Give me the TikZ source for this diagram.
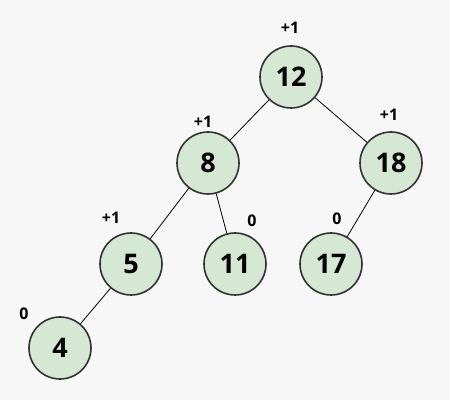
\documentclass[tikz,border=0pt]{standalone}
\usepackage{fontspec}
\setmainfont{Open Sans}
\usetikzlibrary{positioning}
\definecolor{bgcol}{HTML}{F7F7F7}
\definecolor{nodefill}{HTML}{D5E8D4}
\definecolor{nodeline}{HTML}{333333}

\begin{document}
\begin{tikzpicture}[x=0.5pt, y=-0.5pt,
		key/.style={circle, draw=nodeline, fill=nodefill, thick, minimum size=31pt, inner sep=0pt, font=\fontsize{13.5}{15}\selectfont\bfseries},
		bal/.style={font=\fontsize{8}{9}\selectfont\bfseries, inner sep=1pt},
		edge/.style={draw, thin}]
		\fill[bgcol] (0,0) rectangle (450,400);
		\useasboundingbox (0,0) rectangle (450,400);
		% keys
		\node[key] (n12) at (291, 77) {12};
		\node[key] (n8) at (208, 163) {8};
		\node[key] (n18) at (391, 163) {18};
		\node[key] (n5) at (131, 264) {5};
		\node[key] (n11) at (235, 264) {11};
		\node[key] (n17) at (331, 264) {17};
		\node[key] (n4) at (60, 348) {4};
		% balance factors
		\node[bal] (b12) at (290, 28) {+1};
		\node[bal] (b8) at (203, 122) {+1};
		\node[bal] (b18) at (389, 115) {+1};
		\node[bal] (b5) at (111, 218) {+1};
		\node[bal] (b11) at (252, 221) {0};
		\node[bal] (b17) at (337, 219) {0};
		\node[bal] (b4) at (24, 314) {0};
		% edges
		\path[edge] (n12) -- (n8);
		\path[edge] (n12) -- (n18);
		\path[edge] (n8) -- (n5);
		\path[edge] (n8) -- (n11);
		\path[edge] (n18) -- (n17);
		\path[edge] (n5) -- (n4);
	\end{tikzpicture}
\end{document}
